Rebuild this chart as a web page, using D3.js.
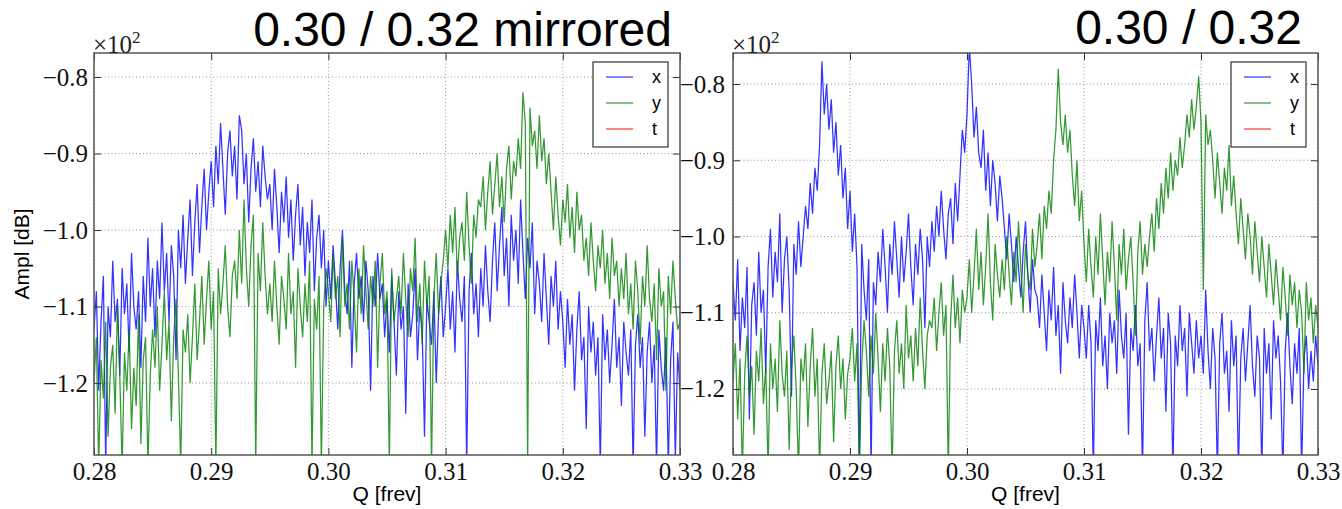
<!DOCTYPE html>
<html><head><meta charset="utf-8">
<script src="https://cdn.jsdelivr.net/npm/d3@7"></script>
<style>body{margin:0;background:#fff}</style>
</head><body><svg id="c" width="1342" height="509"></svg>
<script>
// frequency axis (FFT bins)
const qStart = 0.28, qStep = 0.0002;
const xTicks = [0.28, 0.29, 0.30, 0.31, 0.32, 0.33];
const yTicks = [-80, -90, -100, -110, -120];
const legendLabels = ["x", "y", "t"];
const titles = ["0.30 / 0.32 mirrored", "0.30 / 0.32"];

// left panel: "0.30 / 0.32 mirrored" (dB)
const leftX = [
-113,-108,-121,-112,-106,-131,-110,-114,-104,-112,-109,-119,-105,-111,-107,-116,-103,-110,-113,-108,-118,-106,-112,-101,-110,
-105,-114,-104,-109,-99,-108,-103,-112,-102,-106,-117,-100,-105,-98,-107,
-101,-96,-106,-99,-94,-103,-97,-92,-100,-95,
-91,-97,-89,-94,-86,-92,-98,-90,-87,-93,-89,-96,-85,-87,-94,-90,-99,-92,-88,-95,-91,-97,-89,-93,-96,
-94,-100,-92,-97,-103,-95,-99,-93,-101,-96,-104,-98,-94,-102,-97,-106,-99,-103,-96,-108,-101,-98,-105,-100,-110,
-104,-109,-102,-107,-113,-105,-100,-108,-111,-104,-118,-107,-103,-109,-106,-112,-104,-108,-121,-106,-110,-103,-109,-107,-114,
-109,-116,-106,-112,-119,-108,-113,-110,-124,-107,-114,-111,-105,-117,-110,-113,-127,-109,-112,-115,-108,-120,-111,-106,-114,
-110,-105,-113,-108,-116,-104,-109,-112,-106,-131,-108,-103,-111,-107,-114,-105,-110,-102,-108,-112,
-104,-99,-108,-102,-97,-106,-101,-110,-98,-104,-100,-107,-96,-103,-109,-101,-105,-99,-111,-104,
-107,-112,-103,-109,-115,-106,-110,-104,-113,-108,
-112,-118,-109,-115,-111,-121,-113,-108,-117,-114,-126,-110,-116,-112,-119,-114,-131,-111,-117,-113,-120,-115,-109,-118,-114,-123,-112,-116,-119,-113,-131,-115,-111,-118,-114,-127,-116,-112,-120,-115,-131,-113,-118,-121,-114,-131,-117,-112,-130,-116,-121
];
const leftY = [
-120,-114,-131,-117,-122,-112,-127,-118,-115,-124,-110,-119,-131,-116,-121,-113,-126,-118,-123,-111,-128,-117,-114,-131,-119,
-113,-118,-110,-121,-115,-108,-117,-112,-125,-114,-109,-119,-131,-113,-116,-111,-120,-114,-107,-117,
-112,-106,-115,-109,-104,-113,-108,-131,-105,-111,-107,-102,-110,-114,-106,
-104,-109,-100,-107,-96,-105,-110,-102,-98,-131,-103,-108,-99,-106,-111,
-107,-112,-104,-110,-115,-106,-109,-113,-103,-111,-108,-118,-105,-110,-114,-107,-112,-104,-131,-109,-113,-106,-131,-110,-105,
-108,-112,-103,-109,-106,-114,-101,-110,-107,-113,-104,-109,-116,-105,-111,-102,-108,-113,-106,-110,-104,-118,-107,-103,-111,-108,-131,-105,-112,-109,
-106,-111,-103,-109,-114,-105,-108,-101,-112,-107,-115,-104,-110,-106,-131,-109,-103,-111,-107,-104,
-100,-105,-98,-103,-97,-106,-101,-99,-104,-95,-102,-107,-98,-101,-96,
-97,-93,-100,-95,-91,-98,-94,-90,-97,-93,-99,-92,-89,-96,-91,
-93,-88,-92,-82,-86,-131,-84,-89,-87,-92,-85,-91,-88,-94,-90,
-95,-100,-93,-98,-102,-96,-99,-94,-101,-97,-103,-95,-100,-98,-104,
-101,-106,-99,-104,-108,-102,-105,-100,-107,-103,-109,-101,-106,-104,-110,
-105,-109,-103,-111,-107,-113,-104,-108,-115,-106,-110,-102,-109,-112,-107,-117,-105,-110,-108,-121,-106,-111,-104,-109,-113,-112
];
// right panel: "0.30 / 0.32" (dB)
const rightX = [
-106,-111,-103,-115,-108,-112,-104,-124,-109,-106,-113,-102,-110,-107,-118,
-104,-99,-108,-102,-106,-97,-110,-103,-100,-107,-121,-101,-105,-98,-104,
-100,-96,-99,-93,-97,-91,-94,
-88,-77,-84,-80,-86,-82,-89,-85,
-92,-88,-95,-91,-99,-94,-102,-97,
-104,-131,-101,-107,-111,-103,-131,-106,-109,
-102,-106,-99,-104,-110,-101,-105,-98,-103,-108,-100,-106,-102,-97,-104,-109,-101,-105,-99,-103,-112,-100,-104,
-98,-102,-96,-100,-94,-99,-103,-97,-95,-101,-93,-98,
-92,-86,-89,-84,-75,-80,-87,-83,-89,
-91,-86,-94,-89,-96,-90,-93,-98,-92,-95,
-99,-103,-97,-101,-106,-100,-104,-108,-102,-98,-105,-110,-103,-107,
-108,-112,-105,-110,-115,-107,-111,-104,-113,-109,-118,-106,-111,-114,-108,-112,-105,-110,-116,-109,
-112,-116,-109,-114,-131,-111,-115,-108,-117,-113,-120,-110,-114,-111,-118,-107,-113,-116,-110,-126,-112,-115,-109,-117,-114,-131,-111,-106,-115,-112,-119,-113,-108,-116,-112,-123,-110,-114,-131,-113,-117,-109,-115,-112,-121,-110,-114,-118,-111,-116,
-113,-118,-107,-115,-120,-112,-116,-131,-114,-110,-118,-115,-123,-111,-117,-113,-131,-116,-112,-119,-114,-109,-117,-121,-113,-116,-131,-112,-118,-114,-124,-111,-116,-113,-119,-131,-115,-110,-117,-122,-114,-118,-112,-131,-116,-113,-120,-115,-119,-113,-117
];
const rightY = [
-119,-114,-124,-116,-131,-118,-113,-121,-117,-126,-115,-119,-112,-122,-117,-131,-114,-120,-116,-123,-111,-118,-121,-115,-128,-117,-113,-120,-131,-116,-119,-114,-125,-117,-112,-121,-116,-131,-118,-114,-122,-119,-115,-127,-117,-113,-120,-116,-124,-118,
-116,-112,-119,-114,-131,-117,-111,-115,-121,-113,-118,-110,-116,-123,-114,-119,-112,-117,-131,-115,-111,-118,-114,-120,-109,-116,-113,-119,-112,-117,-108,-115,-120,-113,-111,
-112,-108,-115,-110,-106,-113,-109,-131,-111,-105,-112,-108,-114,-107,-110,
-108,-103,-110,-105,-99,-107,-102,-109,-104,-97,-106,-111,-101,-105,-108,
-103,-107,-100,-105,-109,-102,-106,-98,-104,-110,-101,-105,-107,-99,-104,
-101,-97,-103,-96,-99,-94,-97,
-90,-86,-78,-85,-88,-84,-89,-86,
-92,-96,-90,-98,-94,
-101,-106,-99,-104,-108,-100,-105,-97,-103,-109,-102,-106,-98,-104,-111,-101,-105,-99,-107,-103,-100,-106,-113,-102,-98,-105,-101,-104,
-100,-97,-102,-95,-99,-93,-97,-91,-95,-89,-94,-90,-92,-87,-91,
-88,-84,-87,-82,-86,-83,-79,-85,-107,-84,-88,-86,
-90,-95,-89,-93,-97,-91,-94,-88,-96,-92,
-97,-101,-95,-99,-103,-97,-100,-105,-98,-102,-106,-100,-104,-108,-101,-105,-109,-103,-107,-111,-104,-108,-113,-105,-109,-106,-112,-107,-110,-118,-106,-111,-108,-114,-109,-112
];

const svg = d3.select("#c");
svg.append("rect").attr("width",1342).attr("height",509).attr("fill","#fff");

const colors = {x:"#0000ff", y:"#008000", t:"#ff0000"};
const panels = [
  {x0:94, x1:680, y0:53, y1:455, dom:[-129.4,-76.86], sx:leftX, sy:leftY, title:titles[0], tx:672, ty:46, ypad:6, showYLabel:true},
  {x0:733, x1:1318, y0:53, y1:455, dom:[-128.66,-75.93], sx:rightX, sy:rightY, title:titles[1], tx:1302, ty:44, ypad:8, showYLabel:false}
];
const serif = "'Liberation Serif', 'Times New Roman', serif";
const sans = "'Liberation Sans', Arial, sans-serif";

panels.forEach((p, pi) => {
  const x = d3.scaleLinear().domain([0.28,0.33]).range([p.x0,p.x1]);
  const y = d3.scaleLinear().domain(p.dom).range([p.y1,p.y0]);
  const g = svg.append("g");
  const cid = "clip"+pi;
  svg.append("clipPath").attr("id",cid).append("rect")
    .attr("x",p.x0).attr("y",p.y0).attr("width",p.x1-p.x0).attr("height",p.y1-p.y0);

  // grid
  const grid = g.append("g").attr("stroke","#7a7a7a").attr("stroke-width",0.8).attr("stroke-dasharray","1,2.5");
  xTicks.forEach(t => grid.append("line").attr("x1",x(t)).attr("x2",x(t)).attr("y1",p.y0).attr("y2",p.y1));
  yTicks.forEach(t => grid.append("line").attr("x1",p.x0).attr("x2",p.x1).attr("y1",y(t)).attr("y2",y(t)));

  // lines
  const line = d3.line().x((d,i)=>x(qStart+i*qStep)).y(d=>y(d));
  const lg = g.append("g").attr("clip-path",`url(#${cid})`);
  [["x",p.sx],["y",p.sy]].forEach(([k,arr]) => {
    lg.append("path").datum(arr).attr("d",line).attr("fill","none")
      .attr("stroke",colors[k]).attr("stroke-width",1.25).attr("stroke-opacity",0.8)
      .attr("stroke-linejoin","miter");
  });

  // axes via d3 axis (ticks inside)
  const ax = d3.axisBottom(x).tickValues(xTicks).tickSize(-7).tickPadding(7).tickFormat(d=>d.toFixed(2));
  const axT = d3.axisTop(x).tickValues(xTicks).tickSize(-7).tickFormat("");
  const ay = d3.axisLeft(y).tickValues(yTicks).tickSize(-7).tickPadding(p.ypad).tickFormat(d=>(d/100).toFixed(1).replace("-","\u2212"));
  const ayR = d3.axisRight(y).tickValues(yTicks).tickSize(-7).tickFormat("");
  const styleAxis = (sel) => {
    sel.attr("font-family", null).attr("font-size", null);
    sel.select(".domain").remove();
    sel.selectAll(".tick line").attr("stroke","#333").attr("stroke-width",1);
    sel.selectAll("text").style("font-family",serif).style("font-size","25px").attr("fill","#111");
  };
  g.append("g").attr("transform",`translate(0,${p.y1})`).call(ax).call(styleAxis);
  g.append("g").attr("transform",`translate(0,${p.y0})`).call(axT).call(styleAxis);
  g.append("g").attr("transform",`translate(${p.x0},0)`).call(ay).call(styleAxis);
  g.append("g").attr("transform",`translate(${p.x1},0)`).call(ayR).call(styleAxis);

  // frame
  g.append("rect").attr("x",p.x0).attr("y",p.y0).attr("width",p.x1-p.x0).attr("height",p.y1-p.y0)
    .attr("fill","none").attr("stroke","#555").attr("stroke-width",1.5);

  // offset text ×10²
  const off = g.append("text").attr("x",p.x0-1).attr("y",p.y0).style("font-family",serif).style("font-size","25px").attr("fill","#222");
  off.append("tspan").text("\u00d710");
  off.append("tspan").style("font-size","17px").attr("dy",-10).text("2");

  // title
  g.append("text").attr("x",p.tx).attr("y",p.ty).attr("text-anchor","end")
    .style("font-family",sans).style("font-size","48px").attr("fill","#000").text(p.title);

  // x label
  g.append("text").attr("x",(p.x0+p.x1)/2).attr("y",501).attr("text-anchor","middle")
    .style("font-family",sans).style("font-size","21px").attr("fill","#000").text("Q [frev]");
  if (p.showYLabel) {
    g.append("text").attr("transform",`translate(29,${(p.y0+p.y1)/2}) rotate(-90)`).attr("text-anchor","middle")
      .style("font-family",sans).style("font-size","21px").attr("fill","#000").text("Ampl [dB]");
  }

  // legend
  const lx = p.x1 - 87, ly = 62;
  const leg = g.append("g");
  leg.append("rect").attr("x",lx).attr("y",ly).attr("width",75).attr("height",85)
    .attr("fill","#fff").attr("stroke","#333").attr("stroke-width",1.2);
  legendLabels.forEach((lab,i) => {
    const yy = ly + 15 + i*26;
    leg.append("line").attr("x1",lx+13).attr("x2",lx+40).attr("y1",yy).attr("y2",yy)
      .attr("stroke",colors[lab]).attr("stroke-width",1.3).attr("stroke-opacity",0.75);
    leg.append("text").attr("x",lx+59).attr("y",yy+6).attr("text-anchor","start")
      .style("font-family",sans).style("font-size","18px").attr("fill","#000").text(lab);
  });
});
</script>
</body></html>
